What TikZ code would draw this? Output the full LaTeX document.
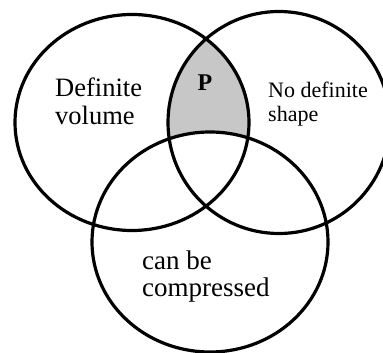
\documentclass[tikz,border=0pt]{standalone}
\usepackage{fontspec}
\setmainfont{Liberation Serif}
\tikzset{
    ring/.style={line width=3.2pt},
    txt/.style={align=left, inner sep=0pt, anchor=north west}
}
\begin{document}
\begin{tikzpicture}[x=1pt,y=-1pt]
    \useasboundingbox (0,0) rectangle (383,353);
    \coordinate (L) at (132,122.5);
    \coordinate (R) at (279,122.5);
    \coordinate (B) at (210,242);

    % shaded part: in L and R, not in B
    \begin{scope}
        \clip (L) ellipse [x radius=117pt, y radius=108pt];
        \clip (R) ellipse [x radius=111pt, y radius=111pt];
        \fill[black!22, even odd rule] (0,0) rectangle (383,353)
            (B) ellipse [x radius=118pt, y radius=110pt];
    \end{scope}

    \draw[ring] (L) ellipse [x radius=117pt, y radius=108pt];
    \draw[ring] (R) ellipse [x radius=111pt, y radius=111pt];
    \draw[ring] (B) ellipse [x radius=118pt, y radius=110pt];

    \node[txt, font=\fontsize{26.5}{28}\selectfont] (vol) at (55,78) {Definite\\volume};
    \node[txt, font=\fontsize{22}{24}\selectfont] (shp) at (268,82) {No definite\\shape};
    \node[txt, font=\fontsize{27}{27}\selectfont] (cmp) at (142,251) {can be\\compressed};
    \node[font=\fontsize{24}{26}\selectfont\bfseries] (P) at (205,83) {P};
\end{tikzpicture}
\end{document}
